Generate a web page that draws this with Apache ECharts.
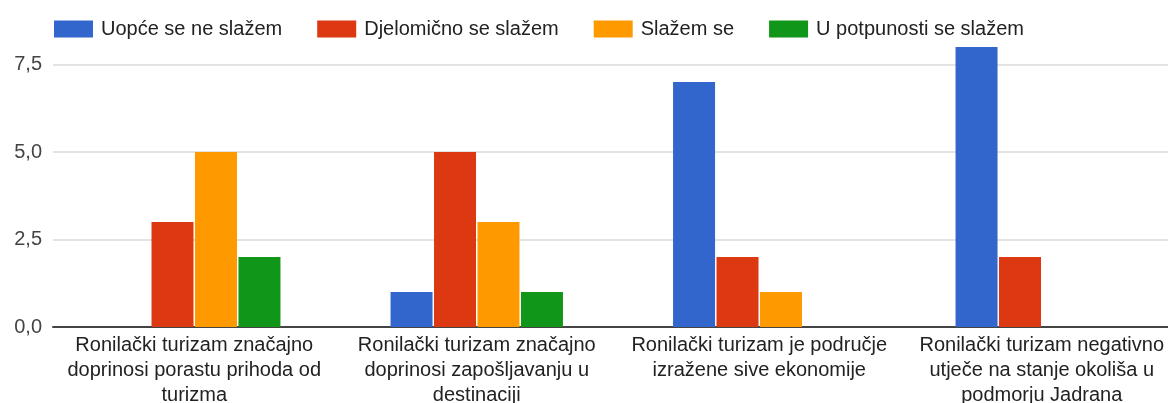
<!DOCTYPE html>
<html>
<head>
<meta charset="utf-8">
<script src="https://cdn.jsdelivr.net/npm/echarts@6/dist/echarts.min.js"></script>
<style>
html,body{margin:0;padding:0;background:#fff;}
#chart{width:1168px;height:403px;}
</style>
</head>
<body>
<div id="chart"></div>
<script>
const categories = [
  "Ronilački turizam značajno\ndoprinosi porastu prihoda od\nturizma",
  "Ronilački turizam značajno\ndoprinosi zapošljavanju u\ndestinaciji",
  "Ronilački turizam je područje\nizražene sive ekonomije",
  "Ronilački turizam negativno\nutječe na stanje okoliša u\npodmorju Jadrana"
];
const seriesNames = ["Uopće se ne slažem", "Djelomično se slažem", "Slažem se", "U potpunosti se slažem"];
const uopceSeNeSlazem = [0, 1, 7, 8];
const djelomicnoSeSlazem = [3, 5, 2, 2];
const slazemSe = [5, 3, 1, 0];
const uPotpunostiSeSlazem = [2, 1, 0, 0];
const yTicks = { min: 0, max: 8, interval: 2.5 };

const colors = ["#3366cc", "#dc3912", "#ff9900", "#109618"];
const values = [uopceSeNeSlazem, djelomicnoSeSlazem, slazemSe, uPotpunostiSeSlazem];
const font = "'Liberation Sans', Arial, sans-serif";

const chart = echarts.init(document.getElementById('chart'), null, {renderer: 'canvas'});
chart.setOption({
  animation: false,
  color: colors,
  textStyle: { fontFamily: font },
  legend: {
    left: 54,
    top: 19,
    padding: 0,
    itemWidth: 39,
    itemHeight: 17,
    itemGap: 35,
    icon: 'rect',
    textStyle: { fontSize: 20, color: '#222', fontFamily: font, padding: [0, 0, 0, 3] },
    data: seriesNames
  },
  grid: { left: 53, right: -15, top: 47, bottom: 76, containLabel: false, outerBoundsMode: 'none' },
  xAxis: {
    type: 'category',
    data: categories,
    axisLine: { lineStyle: { color: '#444', width: 2 } },
    axisTick: { show: false },
    axisLabel: { fontSize: 20, color: '#222', lineHeight: 25, margin: 6, interval: 0, fontFamily: font }
  },
  yAxis: {
    type: 'value',
    min: yTicks.min,
    max: yTicks.max,
    interval: yTicks.interval,
    axisLine: { show: false },
    axisTick: { show: false },
    axisLabel: {
      fontSize: 20, color: '#444', margin: 11, fontFamily: font,
      showMaxLabel: false,
      formatter: v => v.toFixed(1).replace('.', ',')
    },
    splitLine: { show: true, showMaxLine: false, showMinLine: false, lineStyle: { color: '#e3e3e3', width: 2 } }
  },
  series: seriesNames.map((n, i) => ({
    name: n,
    type: 'bar',
    data: values[i],
    barWidth: 42,
    barGap: '3.5%'
  }))
});
</script>
</body>
</html>
